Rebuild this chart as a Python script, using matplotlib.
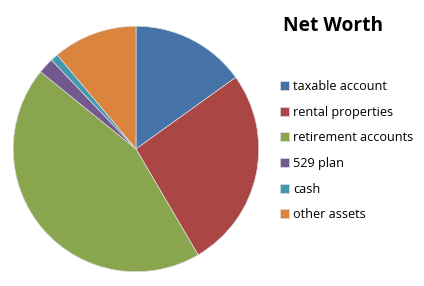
import matplotlib.pyplot as plt

labels = ["taxable account", "rental properties", "retirement accounts", "529 plan", "cash", "other assets"]
values = [15.1, 26.5, 44.3, 2.1, 1.0, 11.1]
colors = ["#4572A7", "#AA4643", "#89A54E", "#71588F", "#4198AF", "#DB843D"]

W, H = 424, 286
fig = plt.figure(figsize=(W / 100, H / 100), dpi=100)

# pie area: centre about (136, 149), radius 124 px
ax = fig.add_axes([12 / W, (H - 273) / H, 248 / W, 248 / H])
wedges, _ = ax.pie(
    values,
    colors=colors,
    startangle=90,
    counterclock=False,
    radius=1,
    wedgeprops=dict(edgecolor="#dddddd", linewidth=0.5),
)
ax.set_xlim(-1.01, 1.01)
ax.set_ylim(-1.01, 1.01)
ax.set_aspect("equal")

fig.text(283 / W, 1 - 26 / H, "Net Worth", fontsize=13.8, fontweight="bold",
         family="Open Sans", va="center", ha="left")

leg = fig.legend(
    wedges,
    labels,
    loc="upper left",
    bbox_to_anchor=(275 / W, 1 - 75 / H),
    frameon=False,
    handlelength=0.7,
    handleheight=0.7,
    handletextpad=0.35,
    labelspacing=1.0,
    borderaxespad=0,
    prop=dict(family="Open Sans", size=9.1),
)

fig.savefig("out.png", dpi=100)
